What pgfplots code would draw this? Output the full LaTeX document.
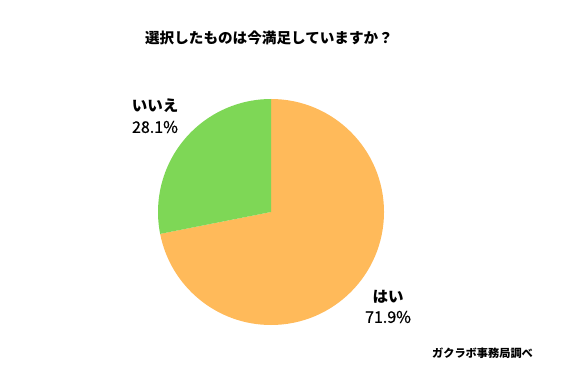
\documentclass[border=0pt]{standalone}
\usepackage{pgfplots}
\pgfplotsset{compat=1.18}
\usepackage{pgfplotstable}
\usepackage{fontspec}
\setmainfont{Noto Sans CJK JP}
\newfontfamily\jpmed[FakeBold=0.8]{Noto Sans CJK JP}
\definecolor{pieorange}{HTML}{FFBA5A}
\definecolor{piegreen}{HTML}{7ED756}
\pgfplotstableread{
label value
yes 71.9
no 28.1
}\piedata
\pgfplotstablegetelem{0}{value}\of\piedata \let\valyes\pgfplotsretval
\pgfplotstablegetelem{1}{value}\of\piedata \let\valno\pgfplotsretval
\begin{document}
\begin{tikzpicture}[x=1bp,y=1bp]
\begin{axis}[
  at={(0,0)}, anchor=south west,
  scale only axis, width=567bp, height=378bp,
  xmin=0, xmax=567, ymin=0, ymax=378,
  hide axis, clip=false]
\pgfmathsetmacro{\angyes}{\valyes*3.6}
\pgfmathsetmacro{\endyes}{90-\angyes}
\fill[pieorange] (axis cs:271,166) -- ++(90:113bp) arc[start angle=90, end angle=\endyes, radius=113bp] -- cycle;
\fill[piegreen] (axis cs:271,166) -- ++(\endyes+360:113bp) arc[start angle=\endyes+360, end angle=90, radius=113bp] -- cycle;
\node[font=\fontsize{14.6bp}{17bp}\selectfont\bfseries] at (axis cs:269,340) {選択したものは今満足していますか？};
\node[font=\fontsize{15.5bp}{17bp}\selectfont\bfseries] at (axis cs:155,272) {いいえ};
\node[font=\fontsize{16bp}{18bp}\selectfont\jpmed] at (axis cs:155,251) {\valno\%};
\node[font=\fontsize{15.5bp}{17bp}\selectfont\bfseries] at (axis cs:388,81) {はい};
\node[font=\fontsize{16bp}{18bp}\selectfont\jpmed] at (axis cs:388,61) {\valyes\%};
\node[font=\fontsize{11.2bp}{13bp}\selectfont\bfseries] at (axis cs:482.5,25) {ガクラボ事務局調べ};
\end{axis}
\path[use as bounding box] (0,0) rectangle (567,378);
\end{tikzpicture}
\end{document}
